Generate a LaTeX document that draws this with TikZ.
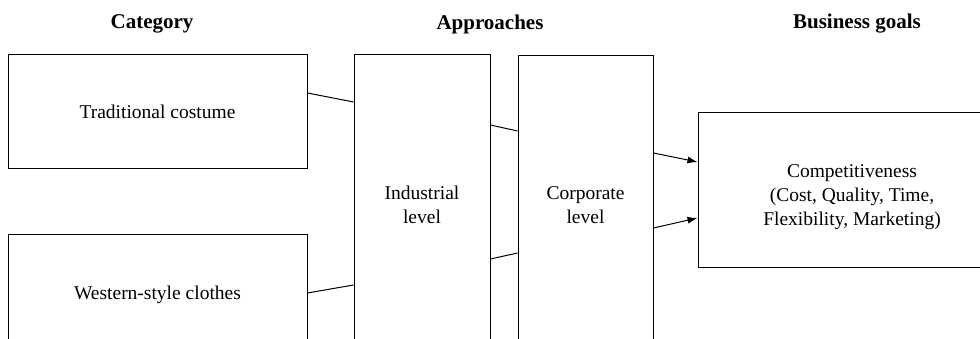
\documentclass[tikz,border=0pt]{standalone}
\usepackage{fontspec}
\setmainfont{Liberation Serif}
\usetikzlibrary{arrows.meta}
\usetikzlibrary{positioning}

\begin{document}
\begin{tikzpicture}[x=1pt, y=-1pt,
		box/.style={draw, line width=1pt, inner sep=0pt, align=center, font=\fontsize{19.5}{24}\selectfont},
		head/.style={font=\fontsize{21}{25}\selectfont\bfseries},
		link/.style={line width=1pt},
		feed/.style={line width=1pt, -{Latex[length=10pt, width=7pt]}}]
				\clip (0,0) rectangle (980,339);
				\node[head] (hcat) at (152,24) {Category};
				\node[head] (happ) at (490,24) {Approaches};
				\node[head] (hgoal) at (857,24) {Business goals};
				
				\node[box, minimum width=299pt, minimum height=114pt] (trad) at (157.5,112) {Traditional costume};
				\node[box, minimum width=299pt, minimum height=120pt] (west) at (157.5,295) {Western-style clothes};
				\node[box, minimum width=136pt, minimum height=300pt] (ind) at (422,205) {Industrial\\level};
				\node[box, minimum width=135pt, minimum height=298pt] (corp) at (585.5,205) {Corporate\\level};
				\node[box, minimum width=308pt, minimum height=154pt] (comp) at (852,190) {\rule{0pt}{27pt}Competitiveness\\(Cost, Quality, Time,\\Flexibility, Marketing)};
				
				\draw[link] ([yshift=19pt]trad.east) -- ([yshift=103pt]ind.west);
				\draw[link] ([yshift=2pt]west.east) -- ([yshift=-80pt]ind.west);
				\draw[link] ([yshift=80pt]ind.east) -- ([yshift=74pt]corp.west);
				\draw[link] ([yshift=-54pt]ind.east) -- ([yshift=-48pt]corp.west);
				\draw[feed] ([yshift=52pt]corp.east) -- ([yshift=28pt]comp.west);
				\draw[feed] ([yshift=-23pt]corp.east) -- ([yshift=-28pt]comp.west);
			\end{tikzpicture}
\end{document}
